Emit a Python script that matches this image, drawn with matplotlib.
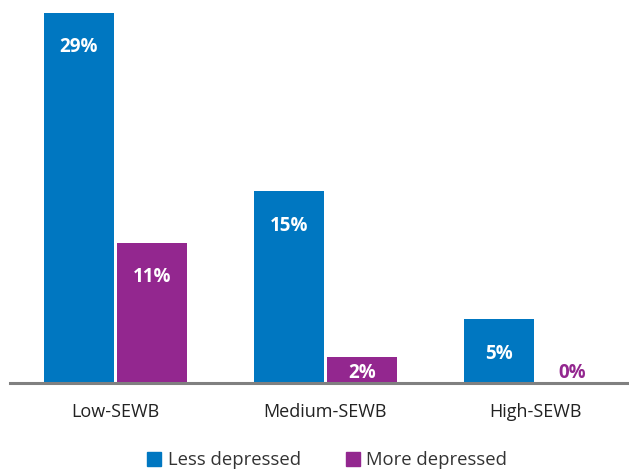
import matplotlib.pyplot as plt
from matplotlib.lines import Line2D
import numpy as np

plt.rcParams['font.family'] = ['Open Sans', 'DejaVu Sans']

groups = ['Low-SEWB', 'Medium-SEWB', 'High-SEWB']
less_depressed = [29, 15, 5]
more_depressed = [11, 2, 0]
series_names = ['Less depressed', 'More depressed']

blue = '#0077c1'
purple = '#93278f'

fig = plt.figure(figsize=(6.29, 4.69), dpi=100)
ax = fig.add_axes([10 / 629, 86 / 469, 619 / 629, 383 / 469])

x = np.arange(len(groups))
w = 0.333
off = 0.174
ax.bar(x - off, less_depressed, w, color=blue)
ax.bar(x + off, more_depressed, w, color=purple)

# value labels inside bars, near the top
for xs, vals, col in [(x - off, less_depressed, blue), (x + off, more_depressed, purple)]:
    for xi, v in zip(xs, vals):
        y = max(v - 2.7, 0.8)
        tc = 'white' if v >= 2 else col
        ax.text(xi, y, f'{v}%', ha='center', va='center', color=tc,
                fontsize=13.5, fontweight='bold')

ax.set_xlim(-0.502, 2.445)
ax.set_ylim(0, 30.0)
ax.set_yticks([])
ax.set_xticks(x)
ax.set_xticklabels(groups, fontsize=13, color='#222222')
ax.tick_params(axis='x', length=0, pad=14.5)
for s in ['top', 'right', 'left']:
    ax.spines[s].set_visible(False)
ax.spines['bottom'].set_color('#808080')
ax.spines['bottom'].set_linewidth(2.2)

handles = [Line2D([], [], marker='s', linestyle='', markersize=9.5, color=c)
           for c in (blue, purple)]
fig.legend(handles, series_names, loc='center', bbox_to_anchor=(327 / 629, 9 / 469),
           ncol=2, frameon=False, fontsize=13.3, handlelength=0.8,
           handletextpad=0.35, columnspacing=2.4, labelcolor='#333333')

fig.savefig('out.png', dpi=100)
